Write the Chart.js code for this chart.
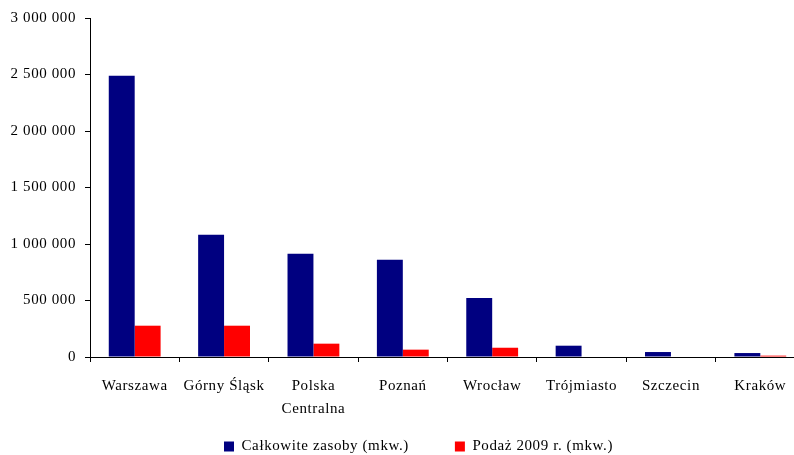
<!DOCTYPE html>
<html>
<head>
<meta charset="utf-8">
<script src="https://cdn.jsdelivr.net/npm/chart.js@4/dist/chart.umd.min.js"></script>
<style>
html,body{margin:0;padding:0;background:#fff;overflow:hidden;width:794px;height:455px;}
#wrap{position:absolute;left:0;top:0;width:805px;height:455px;}
</style>
</head>
<body>
<div id="wrap"><canvas id="c" width="805" height="455"></canvas></div>
<script>
const categories = ['Warszawa', 'Górny Śląsk', ['Polska', 'Centralna'], 'Poznań', 'Wrocław', 'Trójmiasto', 'Szczecin', 'Kraków'];
const seriesNames = ['Całkowite zasoby (mkw.)', 'Podaż 2009 r. (mkw.)'];
const totalStock = [2490000, 1082000, 914000, 861000, 522000, 100000, 44000, 35000];
const supply2009 = [277000, 277000, 118000, 65000, 82000, 0, 0, 12000];
const yTickValues = [0, 500000, 1000000, 1500000, 2000000, 2500000, 3000000];
const yTickLabels = ['0', '500 000', '1 000 000', '1 500 000', '2 000 000', '2 500 000', '3 000 000'];

const FONT = 'Liberation Serif, Times New Roman, serif';
Chart.defaults.font.family = FONT;
Chart.defaults.color = '#000';

const spacingPlugin = {
  id: 'spacing',
  beforeInit(chart) { chart.ctx.letterSpacing = '0.6px'; },
  beforeLayout(chart) { chart.ctx.letterSpacing = '0.6px'; },
  beforeDraw(chart) { chart.ctx.letterSpacing = '0.6px'; },
  afterLayout(chart) {
    const lg = chart.legend;
    if (!lg) return;
    lg.left += 16; lg.right += 16;
    lg.top = 393; lg.bottom = 455; lg.height = 62;
  }
};

new Chart(document.getElementById('c'), {
  type: 'bar',
  plugins: [spacingPlugin],
  data: {
    labels: categories,
    datasets: [
      { label: seriesNames[0], data: totalStock, backgroundColor: '#000080', borderWidth: 0, categoryPercentage: 0.58, barPercentage: 1.0 },
      { label: seriesNames[1], data: supply2009, backgroundColor: '#FF0000', borderWidth: 0, categoryPercentage: 0.58, barPercentage: 1.0 }
    ]
  },
  options: {
    responsive: false,
    animation: false,
    devicePixelRatio: 1,
    layout: { padding: { left: 0, right: 0, top: 18, bottom: 0 } },
    plugins: {
      tooltip: { enabled: false },
      legend: {
        position: 'bottom',
        maxHeight: 30,
        labels: { boxWidth: 10, boxHeight: 10, padding: 46, font: { size: 15, family: FONT }, color: '#000' }
      }
    },
    scales: {
      x: {
        offset: true,
        grid: { offset: true, drawOnChartArea: false, drawTicks: true, tickLength: 5, color: '#000' },
        border: { color: '#000', width: 1 },
        ticks: { maxRotation: 0, minRotation: 0, autoSkip: false, padding: 13, font: { size: 15, family: FONT, lineHeight: 1.5 }, color: '#000' },
        afterFit: (s) => { s.height = 68; }
      },
      y: {
        min: 0, max: 3000000,
        afterBuildTicks: (s) => { s.ticks = yTickValues.map(v => ({ value: v })); },
        grid: { drawOnChartArea: false, drawTicks: true, tickLength: 5, color: '#000' },
        border: { color: '#000', width: 1 },
        ticks: {
          padding: 9,
          font: { size: 15, family: FONT },
          color: '#000',
          callback: (v) => { const i = yTickValues.indexOf(v); return i >= 0 ? yTickLabels[i] : ''; }
        },
        afterFit: (s) => { s.width = 90; }
      }
    }
  }
});
</script>
</body>
</html>
